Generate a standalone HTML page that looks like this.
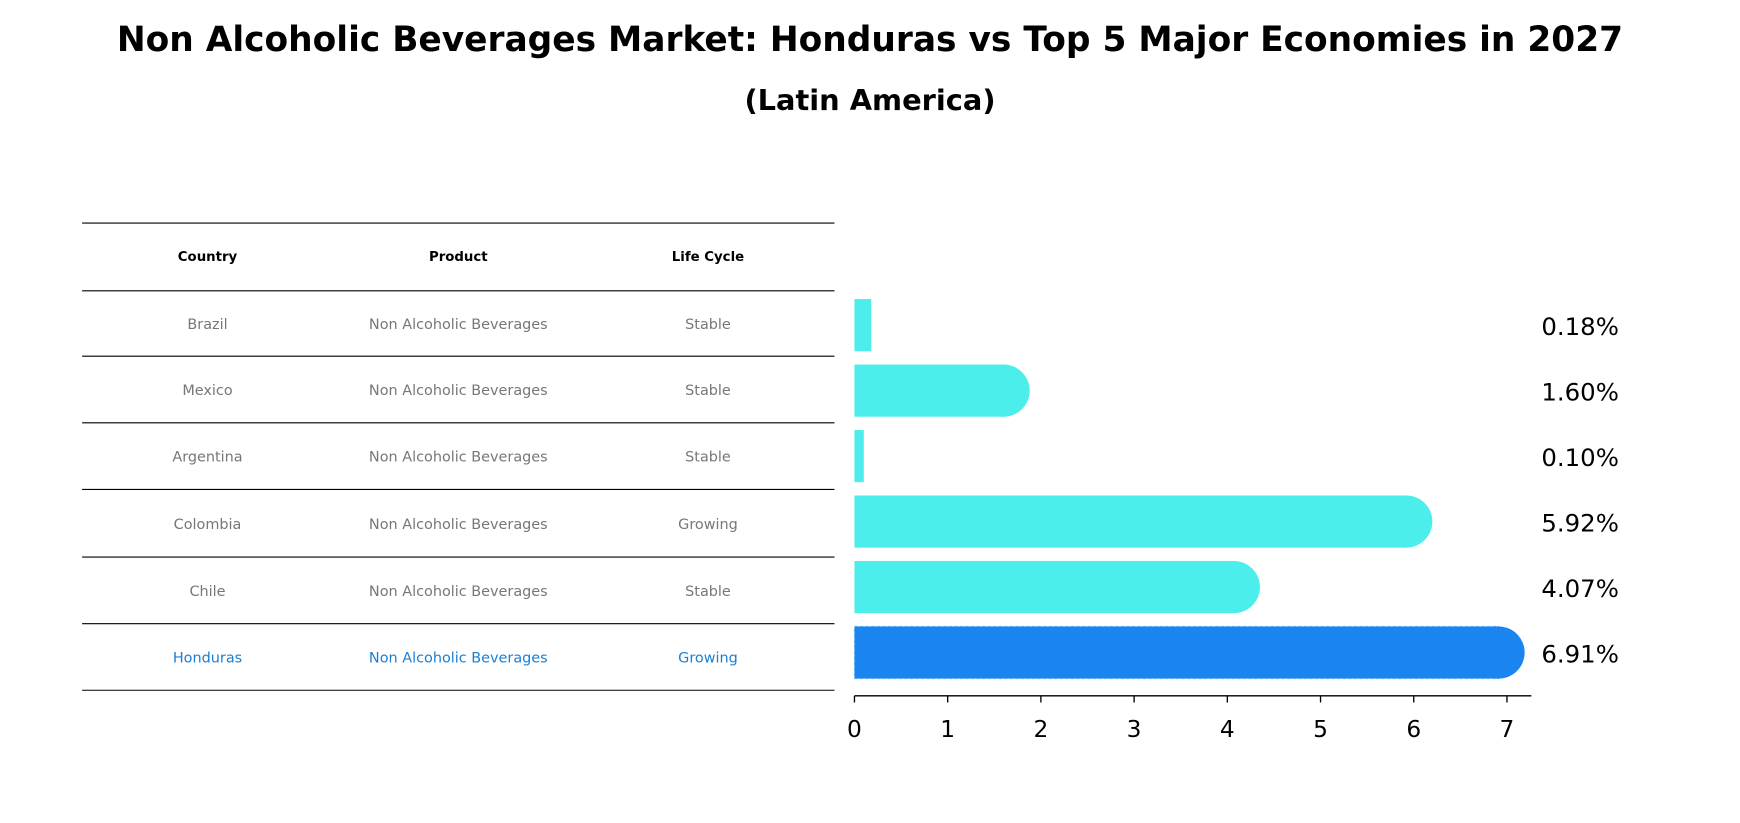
<!DOCTYPE html>
<html><head><meta charset="utf-8"><style>
body{margin:0;background:#fff;}
svg{display:block;font-family:"DejaVu Sans","Liberation Sans",sans-serif;}
</style></head><body>
<svg width="1740" height="823" viewBox="0 0 1568 741.6" xmlns="http://www.w3.org/2000/svg">
<text x="784" y="46" text-anchor="middle" font-size="31" font-weight="bold">Non Alcoholic Beverages Market: Honduras vs Top 5 Major Economies in 2027</text>
<text x="784" y="99" text-anchor="middle" font-size="26" font-weight="bold">(Latin America)</text>
<g id="table"></g>
<g id="bars"></g>
</svg>
<script>
const countries=["Brazil","Mexico","Argentina","Colombia","Chile","Honduras"];
const products=["Non Alcoholic Beverages","Non Alcoholic Beverages","Non Alcoholic Beverages","Non Alcoholic Beverages","Non Alcoholic Beverages","Non Alcoholic Beverages"];
const lifecycles=["Stable","Stable","Stable","Growing","Stable","Growing"];
const values=[0.18,1.60,0.10,5.92,4.07,6.91];
const labels=["0.18%","1.60%","0.10%","5.92%","4.07%","6.91%"];
const ticks=[0,1,2,3,4,5,6,7];
const NS="http://www.w3.org/2000/svg";
function mk(t,a,p){const e=document.createElementNS(NS,t);for(const k in a)e.setAttribute(k,a[k]);p.appendChild(e);return e;}
const tbl=document.getElementById('table');
const lineYs=[201,262,321,381,441,502,562,622];
lineYs.forEach(y=>{const l=mk('line',{x1:74,x2:752,y1:y,y2:y,stroke:'#000','stroke-width':1},tbl);

});
const cx=[187,413,638];
["Country","Product","Life Cycle"].forEach((h,i)=>{const t=mk('text',{x:cx[i],y:235,'text-anchor':'middle','font-size':12,'font-weight':'bold'},tbl);t.textContent=h;

});
countries.forEach((c,r)=>{const y=(lineYs[r+1]+lineYs[r+2])/2+5;const col=r===5?'#1a7fd4':'#777';
[c,products[r],lifecycles[r]].forEach((v,i)=>{const t=mk('text',{x:cx[i],y:y,'text-anchor':'middle','font-size':13,fill:col},tbl);t.textContent=v;

});});
const g=document.getElementById('bars');
const x0=770,ppu=84;const xs=v=>x0+v*ppu;
const yc=i=>293+i*59,bh=47;
values.forEach((v,i)=>{const col=i===5?'#1a85f0':'#4beeea';const w=xs(v)-x0;
const r=mk('rect',{x:x0,y:yc(i)-bh/2,width:w,height:bh,fill:col},g);
if(i===5){r.setAttribute('stroke','#5aaef5');r.setAttribute('stroke-dasharray','3,2');r.setAttribute('stroke-width','1');}


if(v>0.5){const c=mk('circle',{cx:xs(v),cy:yc(i),r:bh/2,fill:col},g);

}
const t=mk('text',{x:1389,y:yc(i)+9,'font-size':22},g);t.textContent=labels[i];

});
const ax=mk('line',{x1:x0,x2:1380,y1:627,y2:627,stroke:'#000','stroke-width':1.3},g);


ticks.forEach(tv=>{const l=mk('line',{x1:xs(tv),x2:xs(tv),y1:627,y2:633,stroke:'#000','stroke-width':1.2},g);


const t=mk('text',{x:xs(tv),y:664,'text-anchor':'middle','font-size':21},g);t.textContent=tv;

});
</script>
</body></html>
